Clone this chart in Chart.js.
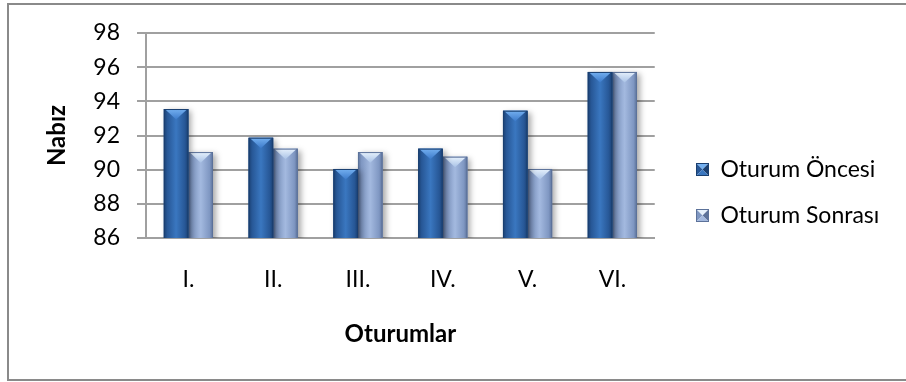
<!DOCTYPE html>
<html>
<head>
<meta charset="utf-8">
<title>Nabız</title>
<script src="https://cdn.jsdelivr.net/npm/chart.js@4.4.1/dist/chart.umd.min.js"></script>
<style>
  html, body { margin: 0; padding: 0; background: #ffffff; }
  #wrap { position: relative; width: 906px; height: 382px; }
  canvas { display: block; }
</style>
</head>
<body>
<div id="wrap"><canvas id="chart" width="906" height="382"></canvas></div>
<script>
// Sessions (x axis) and pulse values per series
const categories = ['I.', 'II.', 'III.', 'IV.', 'V.', 'VI.'];
const seriesNames = ['Oturum Öncesi', 'Oturum Sonrası'];
const oturumOncesi = [93.55, 91.87, 90.04, 91.23, 93.45, 95.72];
const oturumSonrasi = [91.03, 91.23, 91.03, 90.76, 90.04, 95.72];
const yTickValues = [86, 88, 90, 92, 94, 96, 98];
const yTitle = 'Nabız';
const xTitle = 'Oturumlar';

const FONT = 'Lato, "Open Sans", "DejaVu Sans", sans-serif';
const LABEL_SIZE = 23;
const TITLE_SIZE = 24;

// Bevel palettes for the two series
const palettes = [
  { flat: '#2C62A6', edge: '#1A3F70', side: '#275796', mid: '#3A77C0',
    capTop: '#74B0F0', capBottom: '#3C7ACA', foot: 'rgba(110,160,225,0.35)' },
  { flat: '#8AA2CC', edge: '#5C729A', side: '#7F97C2', mid: '#A3B9DF',
    capTop: '#E6F1FC', capBottom: '#A9C2E6', foot: 'rgba(220,232,248,0.35)' }
];

// Small pyramid-style swatch for the legend
function makeSwatch(p) {
  const s = 13;
  const c = document.createElement('canvas');
  c.width = s; c.height = s;
  const g = c.getContext('2d');
  const tri = (pts, color) => {
    g.beginPath();
    g.moveTo(pts[0], pts[1]); g.lineTo(pts[2], pts[3]); g.lineTo(pts[4], pts[5]);
    g.closePath(); g.fillStyle = color; g.fill();
  };
  const m = s / 2;
  tri([0, 0, s, 0, m, m], p.capTop);
  tri([0, 0, 0, s, m, m], p.side);
  tri([s, 0, s, s, m, m], p.edge);
  tri([0, s, s, s, m, m], p.mid);
  g.strokeStyle = p.edge; g.lineWidth = 1;
  g.strokeRect(0.5, 0.5, s - 1, s - 1);
  return c;
}

// Width of the legend text, used to size the right-hand legend column
const measure = document.createElement('canvas').getContext('2d');
measure.font = LABEL_SIZE + 'px ' + FONT;
const legendTextW = Math.max(...seriesNames.map(n => measure.measureText(n).width));

const LEGEND_PAD = 23;
const BOX = 13;
const PLOT_RIGHT = 654;
const legendW = LEGEND_PAD + BOX + LABEL_SIZE / 2 + legendTextW + 10;
const padRight = Math.max(0, 906 - PLOT_RIGHT - legendW);

// Outer frame + white background
const framePlugin = {
  id: 'frame',
  beforeDraw(chart) {
    const ctx = chart.ctx;
    ctx.save();
    ctx.fillStyle = '#ffffff';
    ctx.fillRect(0, 0, chart.width, chart.height);
    ctx.strokeStyle = '#8a8a8a';
    ctx.lineWidth = 2;
    ctx.strokeRect(8, 4, chart.width + 10, 376);
    ctx.restore();
  }
};

// Moves the legend column to its place beside the plot
const legendPlace = {
  id: 'legendPlace',
  afterLayout(chart) {
    const lg = chart.legend;
    if (!lg) return;
    const dx = 696 - (lg.left + LEGEND_PAD);
    const dy = -15;
    lg.left += dx; lg.right += dx;
    lg.top += dy; lg.bottom += dy;
  }
};

// Soft drop shadow under the bars, then bevel shading on top
const barBevel = {
  id: 'barBevel',
  beforeDatasetDraw(chart) {
    const ctx = chart.ctx;
    ctx.save();
    ctx.shadowColor = 'rgba(0,0,0,0.35)';
    ctx.shadowBlur = 6;
    ctx.shadowOffsetX = 3;
    ctx.shadowOffsetY = 2;
  },
  afterDatasetDraw(chart, args) {
    const ctx = chart.ctx;
    ctx.restore();
    const p = palettes[args.index];
    const area = chart.chartArea;
    ctx.save();
    ctx.beginPath();
    ctx.rect(area.left, area.top - 2, area.right - area.left, area.bottom - area.top + 2);
    ctx.clip();
    args.meta.data.forEach(el => {
      const l = el.x - el.width / 2, r = el.x + el.width / 2;
      const t = el.y, b = el.base, w = r - l, h = b - t;
      if (h <= 0) return;
      const body = ctx.createLinearGradient(l, 0, r, 0);
      body.addColorStop(0, p.edge);
      body.addColorStop(0.14, p.side);
      body.addColorStop(0.5, p.mid);
      body.addColorStop(0.86, p.side);
      body.addColorStop(1, p.edge);
      ctx.fillStyle = body;
      ctx.fillRect(l, t, w, h);
      // top cap
      const capH = Math.min(w * 0.43, h);
      const cap = ctx.createLinearGradient(0, t, 0, t + capH);
      cap.addColorStop(0, p.capTop);
      cap.addColorStop(1, p.capBottom);
      ctx.beginPath();
      ctx.moveTo(l + 1, t); ctx.lineTo(r - 1, t); ctx.lineTo(el.x, t + capH);
      ctx.closePath();
      ctx.fillStyle = cap; ctx.fill();
      // faint foot reflection
      const footH = Math.min(w * 0.4, h / 2);
      ctx.beginPath();
      ctx.moveTo(l + 2, b); ctx.lineTo(r - 2, b); ctx.lineTo(el.x, b - footH);
      ctx.closePath();
      ctx.fillStyle = p.foot; ctx.fill();
      // outline
      ctx.strokeStyle = p.edge;
      ctx.lineWidth = 1;
      ctx.strokeRect(l + 0.5, t + 0.5, w - 1, h - 1);
    });
    ctx.restore();
  }
};

const series = [oturumOncesi, oturumSonrasi];

new Chart(document.getElementById('chart'), {
  type: 'bar',
  data: {
    labels: categories,
    datasets: series.map((vals, i) => ({
      label: seriesNames[i],
      data: vals,
      backgroundColor: palettes[i].flat,
      borderWidth: 0,
      pointStyle: makeSwatch(palettes[i]),
      categoryPercentage: 0.58,
      barPercentage: 1.0
    }))
  },
  options: {
    responsive: false,
    devicePixelRatio: 1,
    animation: false,
    events: [],
    layout: { padding: { left: 8, top: 33, right: padRight, bottom: 0 } },
    plugins: {
      tooltip: { enabled: false },
      legend: {
        position: 'right',
        align: 'center',
        labels: {
          usePointStyle: true,
          boxWidth: BOX,
          boxHeight: BOX,
          padding: LEGEND_PAD,
          color: '#000000',
          font: { family: FONT, size: LABEL_SIZE }
        }
      }
    },
    scales: {
      x: {
        grid: { display: false, drawTicks: false },
        border: { display: true, color: '#a0a0a0', width: 2 },
        ticks: {
          color: '#000000',
          padding: 28,
          font: { family: FONT, size: LABEL_SIZE }
        },
        title: {
          display: true,
          text: xTitle,
          color: '#000000',
          font: { family: FONT, size: TITLE_SIZE, weight: 'bold' },
          padding: { top: 0, bottom: 33 }
        },
        afterFit(scale) { scale.height = 144; }
      },
      y: {
        min: 86,
        max: 98,
        afterBuildTicks(scale) { scale.ticks = yTickValues.map(v => ({ value: v })); },
        grid: { color: '#a0a0a0', lineWidth: 2, drawTicks: true, tickLength: 9 },
        border: { display: true, color: '#a0a0a0', width: 2 },
        ticks: {
          color: '#000000',
          padding: 17,
          font: { family: FONT, size: LABEL_SIZE }
        },
        title: {
          display: true,
          text: yTitle,
          color: '#000000',
          font: { family: FONT, size: TITLE_SIZE, weight: 'bold' },
          padding: { top: 35, bottom: 0 }
        },
        afterFit(scale) { scale.width = 138; }
      }
    }
  },
  plugins: [framePlugin, legendPlace, barBevel]
});
</script>
</body>
</html>
